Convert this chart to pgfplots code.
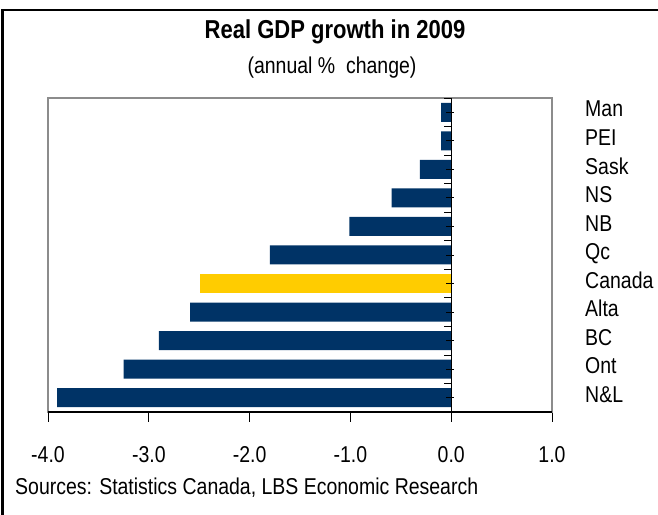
\documentclass[border=0pt]{standalone}
\usepackage{fontspec}
\setmainfont{Liberation Sans}[FakeStretch=0.85]
\usepackage{pgfplots}
\pgfplotsset{compat=1.18}
\definecolor{navy}{RGB}{0,51,102}
\definecolor{gold}{RGB}{255,204,0}
\definecolor{framegray}{RGB}{140,140,140}
\begin{document}
\begin{tikzpicture}[x=1bp,y=1bp]
\useasboundingbox (0,0) rectangle (658,515);
\begin{scope}
\clip (0,0) rectangle (658,515);
\draw[line width=2.5bp] (2.5,-5) -- (2.5,505) -- (670,505);
\end{scope}
\node[font=\fontsize{26}{30}\selectfont\bfseries, anchor=base, inner sep=0] at (335,476) {Real GDP growth in 2009};
\node[font=\fontsize{23}{27}\selectfont, anchor=base, inner sep=0] at (332,441) {(annual \%\ \ change)};
\node[font=\fontsize{23}{27}\selectfont, anchor=base west, inner sep=0] at (15,20) {Sources: Statistics Canada, LBS Economic Research};
\begin{axis}[
  at={(48bp,103bp)}, anchor=south west,
  scale only axis, width=504bp, height=314bp,
  xmin=-4, xmax=1, ymin=0.5, ymax=11.5,
  axis line style={draw=framegray, line width=1.5bp},
  xtick={-4,-3,-2,-1,0,1},
  xtick pos=bottom, xtick align=outside,
  major tick length=10bp,
  tick style={black, line width=1bp},
  xticklabel style={font=\fontsize{23}{27}\selectfont, anchor=base, inner sep=0, yshift=-41bp},
  /pgf/number format/assume math mode=true,
  /pgf/number format/.cd, fixed, fixed zerofill, precision=1, /pgfplots/.cd,
  ytick={1,...,11},
  yticklabels={N\&L,Ont,BC,Alta,Canada,Qc,NB,NS,Sask,PEI,Man},
  yticklabel pos=right,
  ytick style={draw=none},
  yticklabel style={font=\fontsize{23}{27}\selectfont, anchor=base west, inner sep=0, xshift=23bp, yshift=-4.7bp},
  xbar, bar shift=0pt, bar width=19bp,
  clip=false,
]
\addplot[fill=navy, draw=none] coordinates {
  (-3.91,1) (-3.25,2) (-2.90,3) (-2.59,4) (-1.80,6) (-1.01,7) (-0.59,8) (-0.31,9) (-0.10,10) (-0.10,11)
};
\addplot[fill=gold, draw=none] coordinates {(-2.49,5)};
\draw[black, line width=1.5bp] (rel axis cs:0,0) -- (rel axis cs:1,0);
\draw[black, line width=1bp] (axis cs:0,0.5) -- (axis cs:0,11.5);
\pgfplotsinvokeforeach{0.5,1.5,2.5,3.5,4.5,5.5,6.5,7.5,8.5,9.5,10.5,11.5}{
  \draw[black, line width=0.8bp] ([xshift=-7bp]axis cs:0,#1) -- (axis cs:0,#1);
}
\pgfplotsinvokeforeach{1,...,11}{
  \draw[black, line width=0.8bp] ([xshift=-5bp]axis cs:0,#1) -- ([xshift=3bp]axis cs:0,#1);
}
\end{axis}
\end{tikzpicture}
\end{document}
